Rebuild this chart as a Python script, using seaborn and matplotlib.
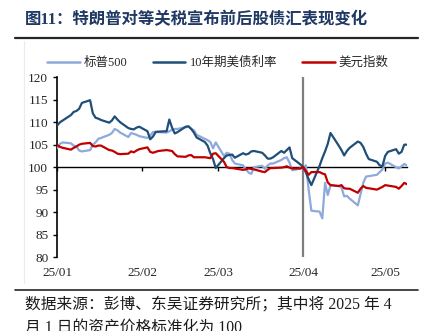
import numpy as np
import pandas as pd
import matplotlib
matplotlib.use("Agg")
import matplotlib.pyplot as plt
import matplotlib.dates as mdates
from matplotlib.lines import Line2D
from matplotlib.patches import Rectangle
import seaborn as sns

# Trading days, 2025-01-01 .. 2025-05-09 (asset prices indexed to 2025-04-01 = 100)
dates = pd.bdate_range("2025-01-01", "2025-05-09")

spx = [
    104.2, 105.2, 105.5, 105.3, 104.8, 104.6, 103.7, 103.5, 103.8, 105.0, 105.5, 106.3,
    106.5, 107.2, 107.6, 108.5, 108.2, 107.7, 106.7, 107.6, 107.4, 107.2, 106.9,
    106.5, 107.0, 107.8, 107.9, 107.8, 107.7, 108.0, 108.3, 108.5, 108.5,
    108.9, 109.0, 108.6, 108.2, 107.2, 106.3, 106.0, 105.6, 104.2, 105.5,
    102.5, 103.2, 103.0, 101.6, 100.8, 100.4, 99.6, 98.8, 98.5, 100.0, 100.3,
    99.6, 100.4, 100.8, 100.8, 101.6, 102.0, 102.2, 101.0, 99.3, 99.7,
    100.0, 100.4, 95.0, 90.3, 90.1, 88.6, 96.5, 93.8, 96.0, 95.8, 95.5,
    93.5, 93.6, 93.0, 91.5, 94.0, 96.5, 97.9, 98.0, 98.3, 98.9, 99.5,
    100.8, 101.0, 100.0, 99.7, 100.2, 100.7, 100.4,
]

ust10y = [
    109.3, 110.0, 110.4, 111.6, 112.3, 112.5, 113.0, 114.3, 114.9, 112.0, 111.0, 110.8,
    110.5, 109.9, 110.4, 111.3, 110.6, 110.0, 108.7, 108.5, 108.4, 108.8, 109.0,
    108.0, 106.2, 106.8, 107.8, 107.9, 108.0, 110.6, 108.8, 107.5, 107.8,
    109.0, 109.1, 108.5, 107.7, 106.6, 105.6, 104.8, 103.1, 101.8, 99.8,
    102.0, 102.6, 102.7, 102.8, 102.1, 103.1, 102.8, 103.0, 103.5, 103.6, 103.2,
    102.6, 101.9, 101.9, 102.2, 103.6, 103.2, 103.8, 104.4, 102.0, 100.6,
    100.0, 98.8, 97.3, 96.0, 100.3, 102.0, 103.5, 105.2, 107.6, 104.8, 103.8,
    102.6, 103.6, 104.3, 105.7, 105.4, 104.5, 103.0, 101.8, 101.2, 100.4, 100.2,
    102.5, 103.4, 104.0, 103.0, 103.4, 105.0, 105.0,
]

dxy = [
    104.9, 104.5, 104.3, 103.9, 104.3, 104.6, 105.0, 105.2, 105.4, 104.7, 104.6, 104.8,
    104.8, 103.8, 103.7, 103.4, 103.0, 102.9, 103.0, 103.5, 103.3, 103.7, 104.0,
    104.4, 103.4, 103.2, 103.4, 103.6, 103.8, 103.7, 103.6, 102.9, 102.4,
    102.3, 102.6, 102.7, 102.2, 102.2, 102.2, 102.1, 102.0, 103.0, 103.1,
    101.2, 100.0, 99.8, 99.8, 99.7, 99.4, 99.5, 99.7, 99.6, 99.5, 99.0,
    98.9, 99.4, 99.8, 99.8, 99.9, 100.0, 100.2, 99.9, 99.7, 99.7,
    100.0, 99.2, 98.3, 98.9, 98.9, 98.6, 98.4, 96.6, 96.0, 95.8, 96.0,
    95.3, 95.2, 95.2, 94.3, 95.2, 95.8, 95.4, 95.3, 95.0, 95.3, 95.6,
    96.0, 95.9, 95.6, 95.2, 95.8, 96.5, 96.2,
]

series_names = ["标普500", "10年期美债利率", "美元指数"]
series_colors = ["#8EA9DB", "#1F4E79", "#C00000"]
y_ticks = [80, 85, 90, 95, 100, 105, 110, 115, 120]
month_starts = ["2025-01-01", "2025-02-01", "2025-03-01", "2025-04-01", "2025-05-01"]
month_labels = ["25/01", "25/02", "25/03", "25/04", "25/05"]
event_date = "2025-04-01"

title = "图11：特朗普对等关税宣布前后股债汇表现变化"
source_line1 = "数据来源：彭博、东吴证券研究所；其中将 2025 年 4"
source_line2 = "月 1 日的资产价格标准化为 100"

sns.set_theme(style="white")
plt.rcParams["font.family"] = ["Liberation Serif", "Noto Sans CJK SC", "DejaVu Sans"]
plt.rcParams["axes.unicode_minus"] = False

df = pd.DataFrame({
    "date": np.tile(dates, 3),
    "value": spx + ust10y + dxy,
    "series": np.repeat(series_names, len(dates)),
})

W, H = 430, 331
fig = plt.figure(figsize=(W / 100, H / 100), dpi=100)
fig.patch.set_facecolor("white")

# faint frame edge on the left of the chart block
fig.add_artist(Line2D([24 / W, 24 / W], [1 - 283 / H, 1 - 41 / H],
                      transform=fig.transFigure, color="#EBEBEB", linewidth=0.8))

ax = fig.add_axes([57.3 / W, 1 - 257 / H, (407 - 57.3) / W, (257 - 77.3) / H])
ax.set_facecolor("none")

sns.lineplot(data=df, x="date", y="value", hue="series", hue_order=series_names,
             palette=series_colors, estimator=None, linewidth=1.6, ax=ax,
             legend=False, zorder=3)

ax.axvline(pd.Timestamp(event_date), color="#7F7F7F", linewidth=1.6, zorder=2.6)

ax.set_xlim(dates[0], dates[-1])
ax.set_ylim(80, 120)
ax.set_yticks(y_ticks)
ax.set_xlabel("")
ax.set_ylabel("")

for side in ("top", "right"):
    ax.spines[side].set_visible(False)
ax.spines["left"].set_color("black")
ax.spines["left"].set_linewidth(1.2)
ax.spines["bottom"].set_position(("data", 100))
ax.spines["bottom"].set_color("black")
ax.spines["bottom"].set_linewidth(1.0)
ax.spines["bottom"].set_zorder(2.5)

tick_pos = [mdates.date2num(pd.Timestamp(d)) for d in month_starts]
ax.set_xticks(tick_pos)
ax.tick_params(axis="x", direction="out", length=3, width=1, color="black",
               labelbottom=False, bottom=True)
ax.tick_params(axis="y", direction="out", length=3, width=1, color="black",
               labelsize=9.5, pad=3.5, left=True)
ax.grid(False)

sec = ax.secondary_xaxis("bottom")
sec.set_xticks(tick_pos, labels=month_labels)
sec.spines["bottom"].set_visible(False)
sec.tick_params(length=0, pad=7, labelsize=9.5)

handles = [Line2D([], [], color=c, linewidth=1.8) for c in series_colors]
fig.legend(handles, series_names, loc="center", bbox_to_anchor=(218 / W, 1 - 63 / H),
           ncol=3, frameon=False, fontsize=9, handlelength=2.6, handletextpad=0.35,
           columnspacing=2.0, borderaxespad=0)

fig.text(25 / W, 1 - 20 / H, title, ha="left", va="center", fontsize=11.8,
         fontweight="bold", color="#1F3864")
fig.add_artist(Line2D([15 / W, 418 / W], [1 - 38 / H, 1 - 38 / H],
                      transform=fig.transFigure, color="#262626", linewidth=1.6))
fig.add_artist(Line2D([15 / W, 418 / W], [1 - 290 / H, 1 - 290 / H],
                      transform=fig.transFigure, color="#262626", linewidth=1.2))
fig.text(25 / W, 1 - 305 / H, source_line1, ha="left", va="center", fontsize=11.3,
         color="#1A1A1A")
fig.text(25 / W, 1 - 329 / H, source_line2, ha="left", va="center", fontsize=11.3,
         color="#1A1A1A")

fig.savefig("out.png", dpi=100)
